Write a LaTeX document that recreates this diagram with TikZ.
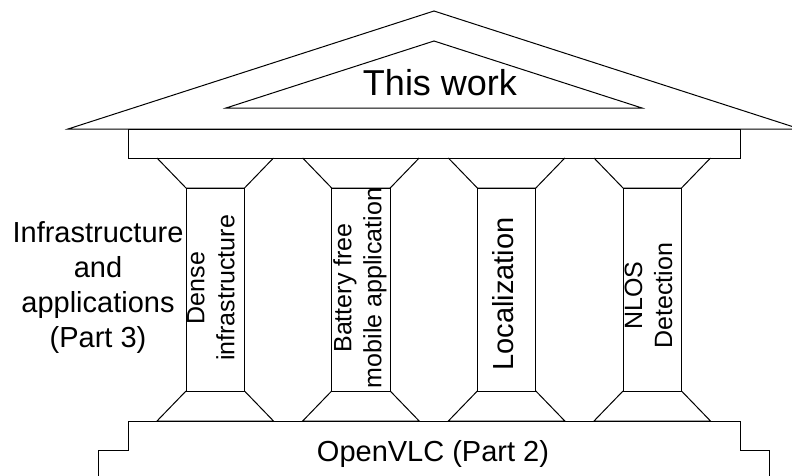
\documentclass[tikz,border=0pt]{standalone}
\usepackage{fontspec}
\setmainfont{Liberation Sans}
\begin{document}
\begin{tikzpicture}[x=1pt,y=-1pt,line width=1pt,line join=miter,
  edge/.style={draw=black},
  biglabel/.style={font=\fontsize{29}{34.8}\selectfont,align=center,inner sep=0pt},
  titlelabel/.style={font=\fontsize{36}{43}\selectfont,inner sep=0pt},
  pillartext/.style={font=\fontsize{25}{30}\selectfont,align=center,inner sep=0pt,rotate=90},
  pillarbig/.style={font=\fontsize{29}{34.8}\selectfont,inner sep=0pt,rotate=90}]
\clip (0,0) rectangle (792,475);

% pediment: outer roof and inner tympanum
\draw[edge] (68,129) -- (434,11) -- (800,129) -- cycle;
\draw[edge] (226,108) -- (434,41) -- (642,108) -- cycle;
\node[titlelabel,anchor=base] (title) at (440,95) {This work};

% architrave
\draw[edge] (128,129) rectangle (740,158);

% four pillars: capital, shaft, base
\foreach \px in {186,331.67,477.33,623}{
  \draw[edge] (\px-29,158) -- (\px,188) -- (\px+58.5,188) -- (\px+87.5,158);
  \draw[edge] (\px,188) rectangle (\px+58.5,391);
  \draw[edge] (\px,391) -- (\px-29,421) -- (\px+87.5,421) -- (\px+58.5,391);
}

% stepped foundation
\draw[edge] (98,476) -- (98,450) -- (128,450) -- (128,421) -- (740,421)
  -- (740,450) -- (769,450) -- (769,476);
\node[biglabel,anchor=base] (base) at (433,461) {OpenVLC (Part 2)};

% pillar labels
\node[pillartext] (dense) at (211,288) {Dense\\infrastructure};
\node[pillartext] (battery) at (360,288) {Battery free\\mobile application};
\node[pillarbig] (local) at (503,294) {Localization};
\node[pillartext] (nlos) at (648.5,295.5) {NLOS\\Detection};

% side caption
\node[biglabel] (side) at (98,287.5) {Infrastructure\\and\\applications\\(Part 3)};
\end{tikzpicture}
\end{document}
